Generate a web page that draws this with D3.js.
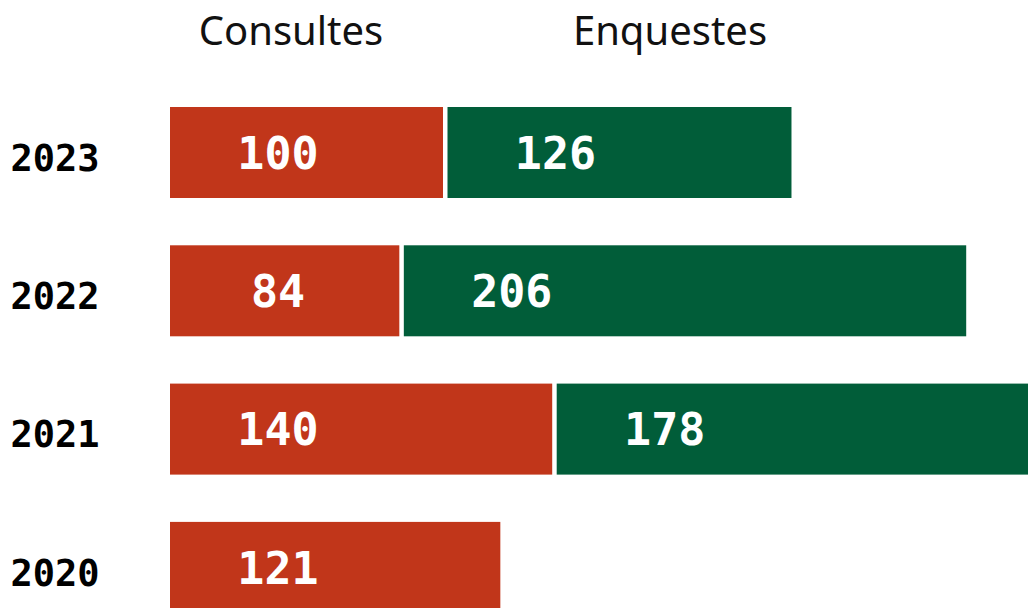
<!DOCTYPE html>
<html>
<head>
<meta charset="utf-8">
<script src="https://cdn.jsdelivr.net/npm/d3@7"></script>
<style>
  body { margin: 0; background: #fff; }
  svg { display: block; }
</style>
</head>
<body>
<svg id="chart" width="1028" height="608"></svg>
<script>
// Data
const years = ["2023", "2022", "2021", "2020"];
const consultes = [100, 84, 140, 121];
const enquestes = [126, 206, 178, null];
const seriesNames = ["Consultes", "Enquestes"];

const red = "#C1361A";
const green = "#015D39";

const svg = d3.select("#chart");
const left = 170;
const gap = 4.5;
const pxPerUnit = 2.73;

// x scale in value units
const x = d3.scaleLinear().domain([0, 1]).range([left, left + pxPerUnit]);
const w = v => x(v) - x(0);

const bandH = 91;
const step = 138.3;
const y = d3.scaleBand()
    .domain(years)
    .range([107, 107 + 3 * step + bandH])
    .paddingInner(1 - bandH / step)
    .paddingOuter(0);

const rows = years.map((yr, i) => ({ year: yr, c: consultes[i], e: enquestes[i] }));

const row = svg.selectAll(".row")
    .data(rows)
    .enter().append("g")
    .attr("class", "row")
    .attr("transform", d => `translate(0,${y(d.year)})`);

// red bars
row.append("rect")
    .attr("x", x(0))
    .attr("y", 0)
    .attr("width", d => w(d.c))
    .attr("height", y.bandwidth())
    .attr("fill", red);

// green bars
row.filter(d => d.e != null).append("rect")
    .attr("x", d => x(d.c) + gap)
    .attr("y", 0)
    .attr("width", d => w(d.e))
    .attr("height", y.bandwidth())
    .attr("fill", green);

const labelOffset = 108;
const valueFont = "'DejaVu Sans Mono', monospace";

row.append("text")
    .attr("x", x(0) + labelOffset)
    .attr("y", y.bandwidth() / 2)
    .attr("dy", "0.36em")
    .attr("text-anchor", "middle")
    .attr("fill", "#fff")
    .style("font-family", valueFont)
    .style("font-weight", "bold")
    .style("font-size", "45px")
    .text(d => d.c);

row.filter(d => d.e != null).append("text")
    .attr("x", d => x(d.c) + gap + labelOffset)
    .attr("y", y.bandwidth() / 2)
    .attr("dy", "0.36em")
    .attr("text-anchor", "middle")
    .attr("fill", "#fff")
    .style("font-family", valueFont)
    .style("font-weight", "bold")
    .style("font-size", "45px")
    .text(d => d.e);

// year labels
row.append("text")
    .attr("x", 55)
    .attr("y", y.bandwidth() / 2 + 5)
    .attr("dy", "0.36em")
    .attr("text-anchor", "middle")
    .attr("fill", "#000")
    .style("font-family", valueFont)
    .style("font-weight", "bold")
    .style("font-size", "37px")
    .text(d => d.year);

// headers
svg.selectAll(".hdr")
    .data(seriesNames)
    .enter().append("text")
    .attr("class", "hdr")
    .attr("x", (d, i) => [291, 670][i])
    .attr("y", 45)
    .attr("text-anchor", "middle")
    .attr("fill", "#111")
    .style("font-family", "'Noto Sans', sans-serif")
    .style("font-size", "40px")
    .text(d => d);
</script>
</body>
</html>
